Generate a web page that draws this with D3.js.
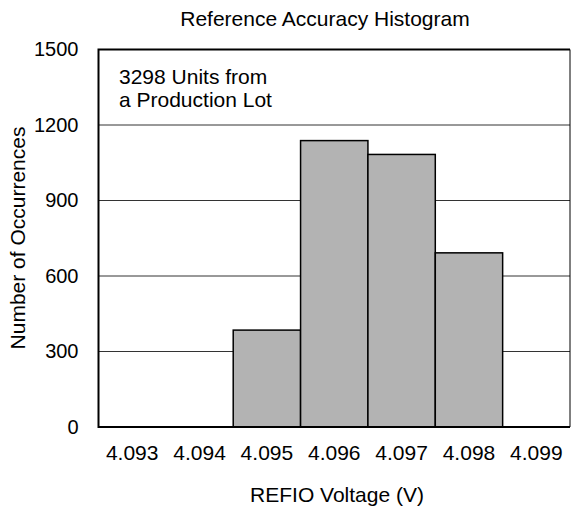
<!DOCTYPE html>
<html><head><meta charset="utf-8">
<script src="https://cdn.jsdelivr.net/npm/d3@7"></script>
<style>body{margin:0;background:#fff}svg{display:block;font-family:Arial,"Liberation Sans",sans-serif}</style>
</head><body><svg id="c" width="571" height="509"></svg>
<script>
const categories = ["4.093","4.094","4.095","4.096","4.097","4.098","4.099"];
const counts = [0, 0, 385, 1138, 1083, 692, 0];
const yTicks = [0, 300, 600, 900, 1200, 1500];
const title = "Reference Accuracy Histogram";
const xTitle = "REFIO Voltage (V)";
const yTitle = "Number of Occurrences";
const note = ["3298 Units from", "a Production Lot"];

const FF = "Arial,'Liberation Sans',sans-serif";
const svg = d3.select("#c");
const L = 98.5, R = 570, T = 49.5, B = 427;
const x = d3.scaleBand().domain(categories).range([L, R]).padding(0);
const y = d3.scaleLinear().domain([0, 1500]).range([B, T]);

// gridlines
svg.append("g").selectAll("line").data(yTicks.filter(v => v > 0 && v < 1500)).join("line")
  .attr("x1", L).attr("x2", R).attr("y1", d => y(d)).attr("y2", d => y(d))
  .attr("stroke", "#333").attr("stroke-width", 1);

// bars
svg.append("g").selectAll("rect").data(categories.map((c, i) => ({c, v: counts[i]})).filter(d => d.v > 0)).join("rect")
  .attr("x", d => x(d.c)).attr("width", x.bandwidth())
  .attr("y", d => y(d.v)).attr("height", d => y(0) - y(d.v))
  .attr("fill", "#b3b3b3").attr("stroke", "#000").attr("stroke-width", 1.5);

// frame
svg.append("line").attr("x1", R).attr("x2", R).attr("y1", T).attr("y2", B).attr("stroke", "#000").attr("stroke-width", 1);
svg.append("path").attr("d", `M${R},${T}H${L}V${B}H${R}`).attr("fill", "none").attr("stroke", "#000").attr("stroke-width", 2);

// y axis
const yAxis = d3.axisLeft(y).tickValues(yTicks).tickFormat(d3.format("d")).tickSize(0).tickPadding(20);
const yg = svg.append("g").attr("transform", `translate(${L},0)`).call(yAxis);
yg.select(".domain").remove();
yg.selectAll("text").attr("font-size", 20).attr("fill", "#000").attr("font-family", FF);

// x axis
const xAxis = d3.axisBottom(x).tickSize(0).tickPadding(18);
const xg = svg.append("g").attr("transform", `translate(0,${B})`).call(xAxis);
xg.select(".domain").remove();
xg.selectAll("text").attr("font-size", 21).attr("fill", "#000").attr("font-family", FF);

// titles
svg.append("text").attr("x", 325).attr("y", 26).attr("text-anchor", "middle").attr("font-size", 21).text(title);
svg.append("text").attr("x", 337).attr("y", 502).attr("text-anchor", "middle").attr("font-size", 21).text(xTitle);
svg.append("text").attr("transform", "translate(25,238) rotate(-90)").attr("text-anchor", "middle").attr("font-size", 21).text(yTitle);

svg.append("g").selectAll("text").data(note).join("text")
  .attr("x", 119).attr("y", (d, i) => 84 + i * 23).attr("font-size", 21).text(d => d);
</script></body></html>
